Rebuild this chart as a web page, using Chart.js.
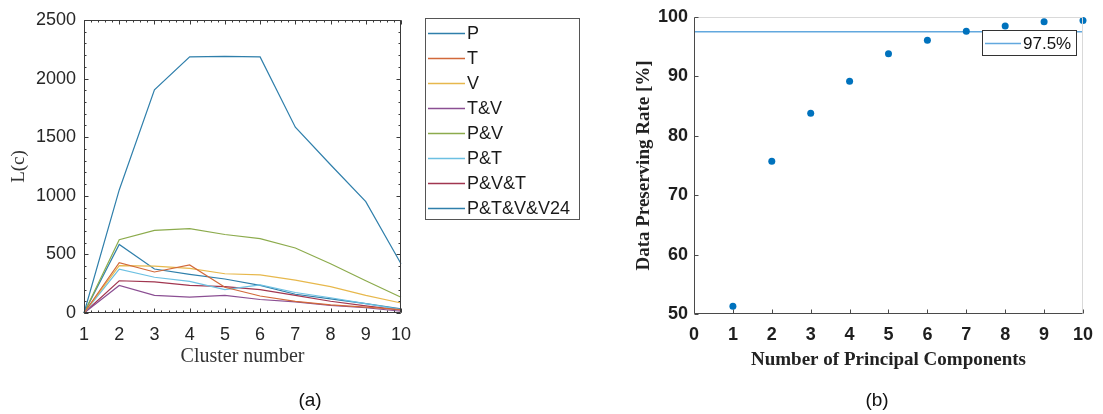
<!DOCTYPE html>
<html>
<head>
<meta charset="utf-8">
<script src="https://cdn.jsdelivr.net/npm/chart.js@4.4.0/dist/chart.umd.min.js"></script>
<style>
  html, body { margin: 0; padding: 0; background: #fff; }
  #page { position: relative; width: 1103px; height: 414px; overflow: hidden; }
  .panel { position: absolute; top: 0; height: 414px; }
  #panelA { left: 0; width: 600px; }
  #panelB { left: 600px; width: 503px; }
  .caption { position: absolute; top: 389px; font: 19px 'Liberation Sans', Arial, sans-serif; color: #111; transform: translateX(-50%); }
</style>
</head>
<body>
<div id="page">
  <div class="panel" id="panelA"><canvas id="chartA" width="600" height="414"></canvas></div>
  <div class="panel" id="panelB"><canvas id="chartB" width="503" height="414"></canvas></div>
  <div class="caption" style="left:310px">(a)</div>
  <div class="caption" style="left:877px">(b)</div>
</div>
<script>
// ── (a) L(c) per cluster number ─────────────────────────────────
const clusters = [1, 2, 3, 4, 5, 6, 7, 8, 9, 10];
const lP       = [0, 1050, 1905, 2185, 2190, 2185, 1585, 1265, 950, 420];
const lT       = [0, 430, 350, 410, 220, 145, 100, 70, 50, 28];
const lV       = [0, 405, 400, 380, 335, 325, 280, 225, 150, 85];
const lTV      = [0, 235, 150, 135, 150, 115, 95, 65, 45, 15];
const lPV      = [0, 625, 705, 720, 670, 635, 555, 420, 275, 135];
const lPT      = [0, 375, 305, 270, 200, 240, 175, 130, 80, 30];
const lPVT     = [0, 275, 265, 235, 225, 200, 150, 100, 60, 25];
const lPTVV24  = [0, 585, 375, 330, 290, 235, 160, 120, 80, 35];

const seriesNames  = ['P', 'T', 'V', 'T&V', 'P&V', 'P&T', 'P&V&T', 'P&T&V&V24'];
const seriesValues = [lP, lT, lV, lTV, lPV, lPT, lPVT, lPTVV24];
const seriesColors = ['#2f7fab', '#d2693a', '#e7b84c', '#8b4f93', '#8cab4c', '#6cc0e2', '#a13650', '#2f7fab'];

// ── (b) data preserving rate per number of components ──────────
const components     = [1, 2, 3, 4, 5, 6, 7, 8, 9, 10];
const preservingRate = [51.3, 75.7, 83.8, 89.2, 93.8, 96.1, 97.6, 98.5, 99.2, 99.4];
const thresholdRange = [0, 10];
const threshold      = 97.5;

// ── Plugins ─────────────────────────────────────────────────────
// MATLAB-style axes: box lines and inward ticks
const matlabAxes = {
    id: 'matlabAxes',
    afterDatasetsDraw(chart, args, o) {
        const { ctx, chartArea: a, scales: { x, y } } = chart;
        const L = Math.round(a.left) + .5, R = Math.round(a.right) - .5;
        const T = Math.round(a.top) + .5, B = Math.round(a.bottom) - .5;
        ctx.save();
        ctx.lineWidth = 1;

        const line = (x0, y0, x1, y1, c) => {
            ctx.strokeStyle = c;
            ctx.beginPath(); ctx.moveTo(x0, y0); ctx.lineTo(x1, y1); ctx.stroke();
        };

        // light sides first, dark ones on top
        line(L, T, R, T, o.topColor);
        line(R, T, R, B, o.rightColor);
        line(L, B, R, B, o.color);
        line(L, T, L, B, o.color);

        const xTicks = (vals, len) => vals.forEach(v => {
            const px = Math.round(x.getPixelForValue(v)) + .5;
            line(px, B, px, B - len, o.color);
            if (o.allSides) line(px, T, px, T + len, o.color);
        });
        const yTicks = (vals, len) => vals.forEach(v => {
            const py = Math.round(y.getPixelForValue(v)) + .5;
            line(L, py, L + len, py, o.color);
            if (o.allSides) line(R, py, R - len, py, o.color);
        });
        const steps = (min, max, step) => {
            const n = Math.round((max - min) / step), out = [];
            for (let i = 0; i <= n; i++) out.push(min + i * step);
            return out;
        };

        if (o.minorX) xTicks(steps(x.min, x.max, o.minorX), o.minorLen);
        if (o.minorY) yTicks(steps(y.min, y.max, o.minorY), o.minorLen);
        xTicks(x.ticks.map(t => t.value), o.majorLen);
        yTicks(y.ticks.map(t => t.value), o.majorLen);
        ctx.restore();
    }
};

// boxed legend like MATLAB's
const boxLegend = {
    id: 'boxLegend',
    afterDraw(chart, args, o) {
        const ctx = chart.ctx;
        const items = chart.data.datasets.filter(d => d.label);
        ctx.save();
        ctx.fillStyle = '#fff';
        ctx.fillRect(o.x, o.y, o.w, o.h);
        ctx.strokeStyle = o.border;
        ctx.lineWidth = 1;
        ctx.strokeRect(o.x + .5, o.y + .5, o.w, o.h);
        ctx.font = o.font;
        ctx.textBaseline = 'middle';
        items.forEach((d, i) => {
            const yy = Math.round(o.firstY + i * o.rowH) + .5;
            ctx.strokeStyle = d.borderColor;
            ctx.lineWidth = 1.5;
            ctx.beginPath();
            ctx.moveTo(o.x + o.lineX0, yy);
            ctx.lineTo(o.x + o.lineX1, yy);
            ctx.stroke();
            ctx.fillStyle = o.textColor;
            ctx.fillText(d.label, o.x + o.textX, yy + 1);
        });
        ctx.restore();
    }
};

const plainNumber = v => String(v);
const noGrid = { display: false, drawTicks: false };

// ── Chart (a) ───────────────────────────────────────────────────
new Chart(document.getElementById('chartA'), {
    type: 'line',
    data: {
        datasets: seriesValues.map((vals, i) => ({
            label: seriesNames[i],
            data: clusters.map((c, j) => ({ x: c, y: vals[j] })),
            borderColor: seriesColors[i],
            borderWidth: 1.2,
            pointRadius: 0,
            tension: 0,
            fill: false,
            clip: false
        }))
    },
    options: {
        responsive: false,
        animation: false,
        layout: { padding: { left: 0, top: 20, right: 199, bottom: 0 } },
        plugins: {
            legend: { display: false },
            tooltip: { enabled: false },
            matlabAxes: {
                color: '#3a3a3a', topColor: '#3a3a3a', rightColor: '#3a3a3a',
                allSides: true, majorLen: 4, minorLen: 2, minorX: 0.2, minorY: 100
            },
            boxLegend: {
                x: 425, y: 18, w: 154, h: 201, firstY: 32.7, rowH: 25.1,
                lineX0: 3, lineX1: 40, textX: 42,
                font: "18px 'Liberation Sans', Arial, sans-serif",
                textColor: '#1a1a1a', border: '#555'
            }
        },
        scales: {
            x: {
                type: 'linear', min: 1, max: 10,
                afterFit: s => { s.height = 101; },
                grid: noGrid,
                border: { display: false },
                ticks: {
                    stepSize: 1, padding: 11, maxRotation: 0,
                    color: '#262626', callback: plainNumber,
                    font: { family: "'Liberation Sans', Arial, sans-serif", size: 18 }
                },
                title: {
                    display: true, text: 'Cluster number', color: '#333',
                    font: { family: "'Liberation Serif', 'Times New Roman', serif", size: 20 },
                    padding: { top: 0, bottom: 45 }
                }
            },
            y: {
                type: 'linear', min: 0, max: 2500,
                afterFit: s => { s.width = 84; },
                grid: noGrid,
                border: { display: false },
                ticks: {
                    stepSize: 500, padding: 8,
                    color: '#262626', callback: plainNumber,
                    font: { family: "'Liberation Sans', Arial, sans-serif", size: 18 }
                },
                title: {
                    display: true, text: 'L(c)', color: '#333',
                    font: { family: "'Liberation Serif', 'Times New Roman', serif", size: 19 },
                    padding: { top: 8, bottom: 0 }
                }
            }
        }
    },
    plugins: [matlabAxes, boxLegend]
});

// ── Chart (b) ───────────────────────────────────────────────────
new Chart(document.getElementById('chartB'), {
    type: 'scatter',
    data: {
        datasets: [
            {
                label: '',
                data: components.map((c, i) => ({ x: c, y: preservingRate[i] })),
                backgroundColor: '#0072bd',
                borderColor: '#0072bd',
                pointRadius: 3.5,
                pointBorderWidth: 0,
                clip: false
            },
            {
                type: 'line',
                label: threshold + '%',
                data: thresholdRange.map(v => ({ x: v, y: threshold })),
                borderColor: '#62a8de',
                borderWidth: 1.5,
                pointRadius: 0,
                fill: false,
                clip: false
            }
        ]
    },
    options: {
        responsive: false,
        animation: false,
        layout: { padding: { left: 0, top: 17, right: 15, bottom: 0 } },
        plugins: {
            legend: { display: false },
            tooltip: { enabled: false },
            matlabAxes: {
                color: '#4a4a4a', topColor: '#d9d9d9', rightColor: '#d9d9d9',
                allSides: false, majorLen: 4, minorLen: 0
            },
            boxLegend: {
                x: 382, y: 30, w: 94, h: 25, firstY: 42.5, rowH: 25,
                lineX0: 3, lineX1: 39, textX: 41,
                font: "17px 'Liberation Sans', Arial, sans-serif",
                textColor: '#111', border: '#333'
            }
        },
        scales: {
            x: {
                type: 'linear', min: 0, max: 10,
                afterFit: s => { s.height = 100; },
                grid: noGrid,
                border: { display: false },
                ticks: {
                    stepSize: 1, padding: 10, maxRotation: 0,
                    color: '#1e1e1e', callback: plainNumber,
                    font: { family: "'Liberation Sans', Arial, sans-serif", size: 18, weight: 'bold' }
                },
                title: {
                    display: true, text: 'Number of Principal Components', color: '#222',
                    font: { family: "'Liberation Serif', 'Times New Roman', serif", size: 19, weight: 'bold' },
                    padding: { top: 0, bottom: 43 }
                }
            },
            y: {
                type: 'linear', min: 50, max: 100,
                afterFit: s => { s.width = 94; },
                grid: noGrid,
                border: { display: false },
                ticks: {
                    stepSize: 10, padding: 6,
                    color: '#1e1e1e', callback: plainNumber,
                    font: { family: "'Liberation Sans', Arial, sans-serif", size: 18, weight: 'bold' }
                },
                title: {
                    display: true, text: 'Data Preserving Rate [%]', color: '#222',
                    font: { family: "'Liberation Serif', 'Times New Roman', serif", size: 19, weight: 'bold' },
                    padding: { top: 33, bottom: 0 }
                }
            }
        }
    },
    plugins: [matlabAxes, boxLegend]
});
</script>
</body>
</html>
